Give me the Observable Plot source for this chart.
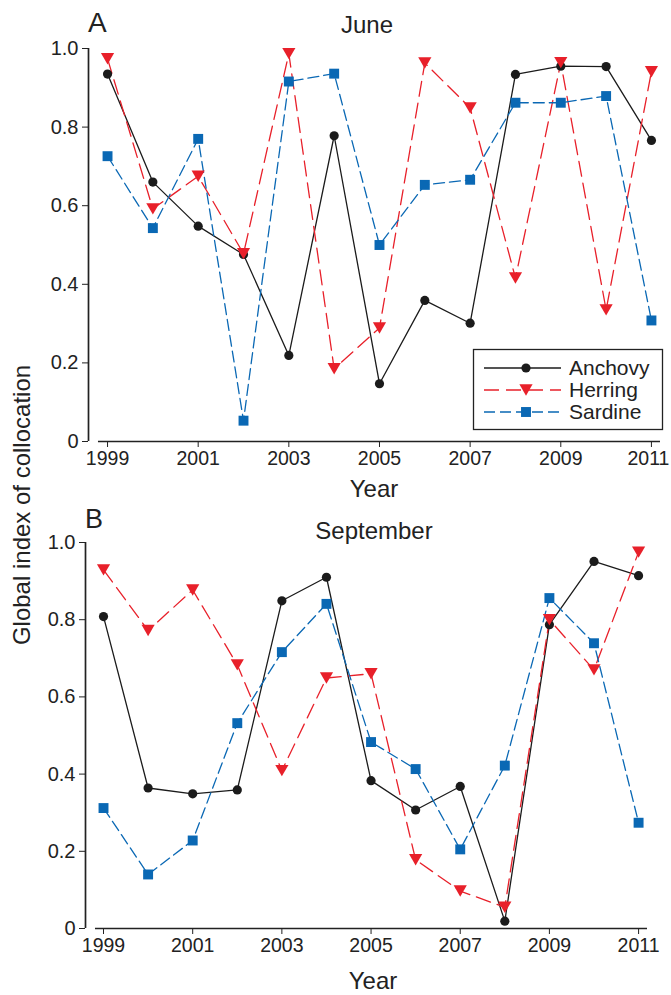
<!DOCTYPE html>
<html><head><meta charset="utf-8">
<script src="https://cdn.jsdelivr.net/npm/d3@7"></script>
<script src="https://cdn.jsdelivr.net/npm/@observablehq/plot@0.6"></script>
<style>
body{margin:0;background:#fff;}
#wrap{position:relative;width:671px;height:995px;font-family:"Liberation Sans",Arial,sans-serif;color:#222;overflow:hidden;}
#wrap svg{position:absolute;left:0;}
</style></head><body><div id="wrap"></div>
<script>
const years = [1999, 2000, 2001, 2002, 2003, 2004, 2005, 2006, 2007, 2008, 2009, 2010, 2011];
const tickYears = [1999, 2001, 2003, 2005, 2007, 2009, 2011];
const yTicks = [0, 0.2, 0.4, 0.6, 0.8, 1.0];
const species = ["Anchovy", "Herring", "Sardine"];

// Panel A: June
const juneAnchovy = [0.935, 0.660, 0.548, 0.476, 0.219, 0.778, 0.147, 0.359, 0.301, 0.934, 0.955, 0.954, 0.766];
const juneHerring = [0.974, 0.592, 0.675, 0.478, 0.987, 0.185, 0.289, 0.963, 0.849, 0.416, 0.964, 0.335, 0.941];
const juneSardine = [0.726, 0.543, 0.770, 0.053, 0.916, 0.936, 0.500, 0.653, 0.666, 0.862, 0.862, 0.879, 0.308];

// Panel B: September
const septAnchovy = [0.808, 0.364, 0.349, 0.359, 0.849, 0.910, 0.383, 0.307, 0.368, 0.019, 0.787, 0.951, 0.914];
const septHerring = [0.929, 0.772, 0.877, 0.683, 0.409, 0.649, 0.660, 0.178, 0.097, 0.055, 0.800, 0.670, 0.975];
const septSardine = [0.312, 0.140, 0.228, 0.532, 0.716, 0.841, 0.483, 0.413, 0.205, 0.422, 0.856, 0.739, 0.274];

const colors = {Anchovy: "#1b1b1b", Herring: "#e8202a", Sardine: "#0a68b4"};
const dashes = {Anchovy: "none", Herring: "15,7", Sardine: "11,5"};
const radii = {Anchovy: 4.6, Herring: 4.9, Sardine: 5.6};

const triangleDown = {
  draw(ctx, size) {
    const a = Math.sqrt(4 * size / Math.sqrt(3));
    const h = a * Math.sqrt(3) / 2;
    ctx.moveTo(0, h / 2);
    ctx.lineTo(-a / 2, -h / 2);
    ctx.lineTo(a / 2, -h / 2);
    ctx.closePath();
  }
};
const symbols = {Anchovy: "circle", Herring: triangleDown, Sardine: "square"};

function toRows(arr) { return years.map((year, i) => ({year, value: arr[i]})); }

function panel(series, opts) {
  const lastTick = tickYears[tickYears.length - 1];
  const marks = [
    Plot.ruleY([0], {x1: opts.axisStart, x2: opts.xDomain[1], stroke: "#222", strokeWidth: 1.7}),
    Plot.ruleX([opts.xDomain[0]], {y1: 0, y2: 1, stroke: "#222", strokeWidth: 1.7}),
    Plot.axisX({ticks: tickYears, tickFormat: null, text: null, tickSize: 6, label: null, stroke: "#222"}),
    Plot.axisX({ticks: tickYears.slice(0, -1), tickFormat: d => String(d), tickSize: 0, tickPadding: 10, label: null, fontSize: 19.5, fill: "#222"}),
    Plot.axisX({ticks: [lastTick], tickFormat: d => String(d), tickSize: 0, tickPadding: 10, dx: opts.lastDx, label: null, fontSize: 19.5, fill: "#222"}),
    Plot.axisY({ticks: yTicks, tickFormat: d => d === 0 ? "0" : d.toFixed(1), tickSize: 6, tickPadding: 4, label: null, fontSize: 20, stroke: "#222", fill: "#222"})
  ];
  for (const s of species) {
    marks.push(Plot.line(toRows(series[s]), {x: "year", y: "value", stroke: colors[s], strokeWidth: 1.3, strokeDasharray: dashes[s]}));
  }
  for (const s of species) {
    marks.push(Plot.dot(toRows(series[s]), {x: "year", y: "value", symbol: symbols[s], r: radii[s], fill: colors[s], stroke: "none"}));
  }
  return Plot.plot({
    width: 671, height: opts.height,
    marginTop: opts.mt, marginBottom: opts.mb, marginLeft: opts.ml, marginRight: opts.mr,
    style: {fontFamily: '"Liberation Sans", Arial, sans-serif', fontSize: "20px", color: "#222", background: "transparent"},
    x: {domain: opts.xDomain, axis: null},
    y: {domain: [0, 1], axis: null},
    marks
  });
}

const wrap = document.getElementById("wrap");

const pA = panel({Anchovy: juneAnchovy, Herring: juneHerring, Sardine: juneSardine},
  {height: 500, mt: 48, mb: 59, ml: 88, mr: 11, xDomain: [1998.58, 2011.2], axisStart: 1998.8, lastDx: -3});
pA.style.top = "0px";
wrap.appendChild(pA);

const pB = panel({Anchovy: septAnchovy, Herring: septHerring, Sardine: septSardine},
  {height: 495, mt: 42, mb: 67, ml: 85, mr: 24, xDomain: [1998.596, 2011.2], axisStart: 1998.82, lastDx: 0});
pB.style.top = "500px";
wrap.appendChild(pB);

// Overlay text + legend
const ov = d3.select(wrap).append("svg").attr("width", 671).attr("height", 995).style("top", "0px")
  .style("font-family", '"Liberation Sans", Arial, sans-serif').attr("fill", "#222");
const texts = [
  {t: "A", x: 88, y: 32, s: 28, a: "start"},
  {t: "June", x: 367, y: 33, s: 24, a: "middle"},
  {t: "Year", x: 374, y: 497, s: 24, a: "middle"},
  {t: "B", x: 85, y: 528, s: 27, a: "start"},
  {t: "September", x: 374, y: 539, s: 24, a: "middle"},
  {t: "Year", x: 373, y: 989, s: 24, a: "middle"}
];
for (const d of texts) {
  ov.append("text").attr("x", d.x).attr("y", d.y).attr("font-size", d.s).attr("text-anchor", d.a).text(d.t);
}
ov.append("text").attr("transform", "translate(30,505) rotate(-90)").attr("font-size", 24)
  .attr("text-anchor", "middle").text("Global index of collocation");

// Legend
const lg = ov.append("g");
lg.append("rect").attr("x", 473.5).attr("y", 349.5).attr("width", 189).attr("height", 80)
  .attr("fill", "#fff").attr("stroke", "#222").attr("stroke-width", 1.3);
const rowsY = [368, 390, 412];
species.forEach((s, i) => {
  const y = rowsY[i];
  lg.append("line").attr("x1", 484).attr("x2", 561).attr("y1", y).attr("y2", y)
    .attr("stroke", colors[s]).attr("stroke-width", 1.3).attr("stroke-dasharray", dashes[s]);
  const size = radii[s] * radii[s] * Math.PI;
  const sym = s === "Anchovy" ? d3.symbolCircle : s === "Sardine" ? d3.symbolSquare : triangleDown;
  lg.append("path").attr("d", d3.symbol(sym, size)()).attr("transform", `translate(526,${y})`).attr("fill", colors[s]);
  lg.append("text").attr("x", 569).attr("y", y).attr("dy", "0.35em").attr("font-size", 21).text(s);
});
</script></body></html>
